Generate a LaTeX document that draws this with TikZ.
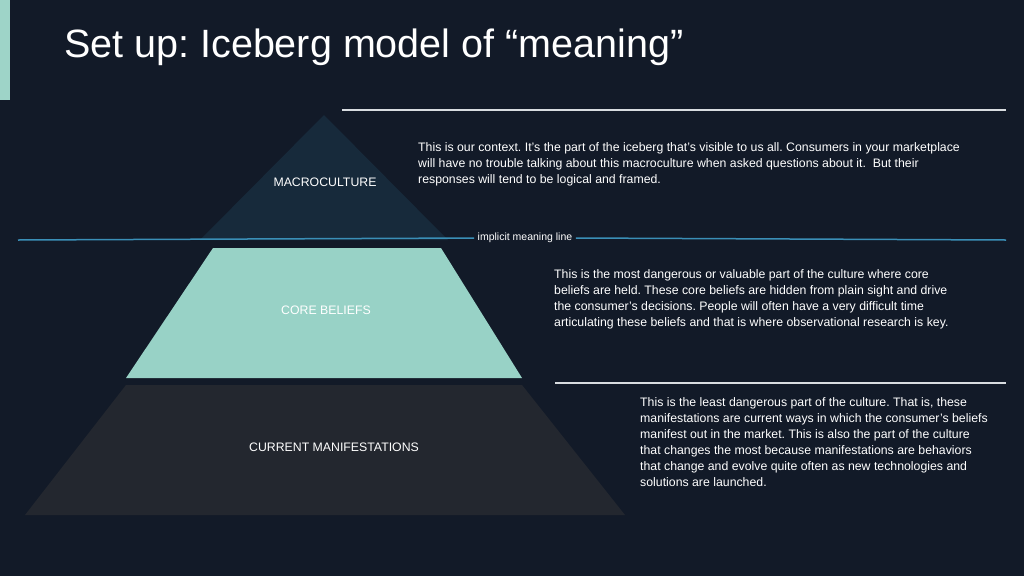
\documentclass[tikz,border=0pt]{standalone}
\usepackage{fontspec}
\setmainfont{Liberation Sans}
\frenchspacing
\definecolor{bgdark}{HTML}{121A28}
\definecolor{accent}{HTML}{9ED4C8}
\definecolor{tiptop}{HTML}{172A3B}
\definecolor{tipmid}{HTML}{98D2C6}
\definecolor{tipbot}{HTML}{23272F}
\definecolor{meaningblue}{HTML}{3A8FB7}
\definecolor{rulegray}{HTML}{D8DCE0}
\tikzset{
    layerlabel/.style={font=\fontsize{12.3}{14}\selectfont, text=white},
    bodytext/.style={font=\fontsize{12.3}{16}\selectfont, text=white, anchor=north west, align=left, inner sep=0pt},
    sepline/.style={line width=1.5pt}
}
\begin{document}
\begin{tikzpicture}[x=1pt, y=-1pt]
    \fill[bgdark] (0,0) rectangle (1024,576);
    \useasboundingbox (0,0) rectangle (1024,576);
    \fill[accent] (0,0) rectangle (10,100);
    \node[anchor=west, text=white, font=\fontsize{39.5}{44}\selectfont, inner sep=0pt] (title) at (64,47) {Set up: Iceberg model of “meaning”};

    % layers of the iceberg
    \fill[tiptop] (324,115) -- (448,240) -- (200,240) -- cycle;
    \fill[tipmid] (213,248) -- (441,248) -- (522,378) -- (126,378) -- cycle;
    \fill[tipbot] (126,385) -- (522,385) -- (625,515) -- (25,515) -- cycle;
    \node[layerlabel] (macro) at (325,182) {MACROCULTURE};
    \node[layerlabel] (core) at (326,310) {CORE BELIEFS};
    \node[layerlabel] (manif) at (334,447) {CURRENT MANIFESTATIONS};

    % rules
    \coordinate (ruleAl) at (342,110); \coordinate (ruleAr) at (1006,110);
    \draw[sepline, rulegray] (ruleAl) -- (ruleAr);
    \node[font=\fontsize{10.5}{12}\selectfont, text=white] (implicit) at (525,238) {implicit meaning line};
    \coordinate (blueL) at (18,240); \coordinate (blueR) at (1006,240);
    \draw[sepline, meaningblue] (blueL) -- (implicit.west);
    \draw[sepline, meaningblue] (implicit.east) -- (blueR);
    \coordinate (ruleBl) at (555,383); \coordinate (ruleBr) at (1006,383);
    \draw[sepline, rulegray] (ruleBl) -- (ruleBr);

    % descriptions
    \node[bodytext] (descA) at (418,142) {This is our context. It's the part of the iceberg that’s visible to us all. Consumers in your marketplace\\will have no trouble talking about this macroculture when asked questions about it.~ But their\\responses will tend to be logical and framed.};
    \node[bodytext] (descB) at (554,269) {This is the most dangerous or valuable part of the culture where core\\beliefs are held. These core beliefs are hidden from plain sight and drive\\the consumer's decisions. People will often have a very difficult time\\articulating these beliefs and that is where observational research is key.};
    \node[bodytext] (descC) at (640,397) {This is the least dangerous part of the culture. That is, these\\manifestations are current ways in which the consumer's beliefs\\manifest out in the market. This is also the part of the culture\\that changes the most because manifestations are behaviors\\that change and evolve quite often as new technologies and\\solutions are launched.};
\end{tikzpicture}
\end{document}
